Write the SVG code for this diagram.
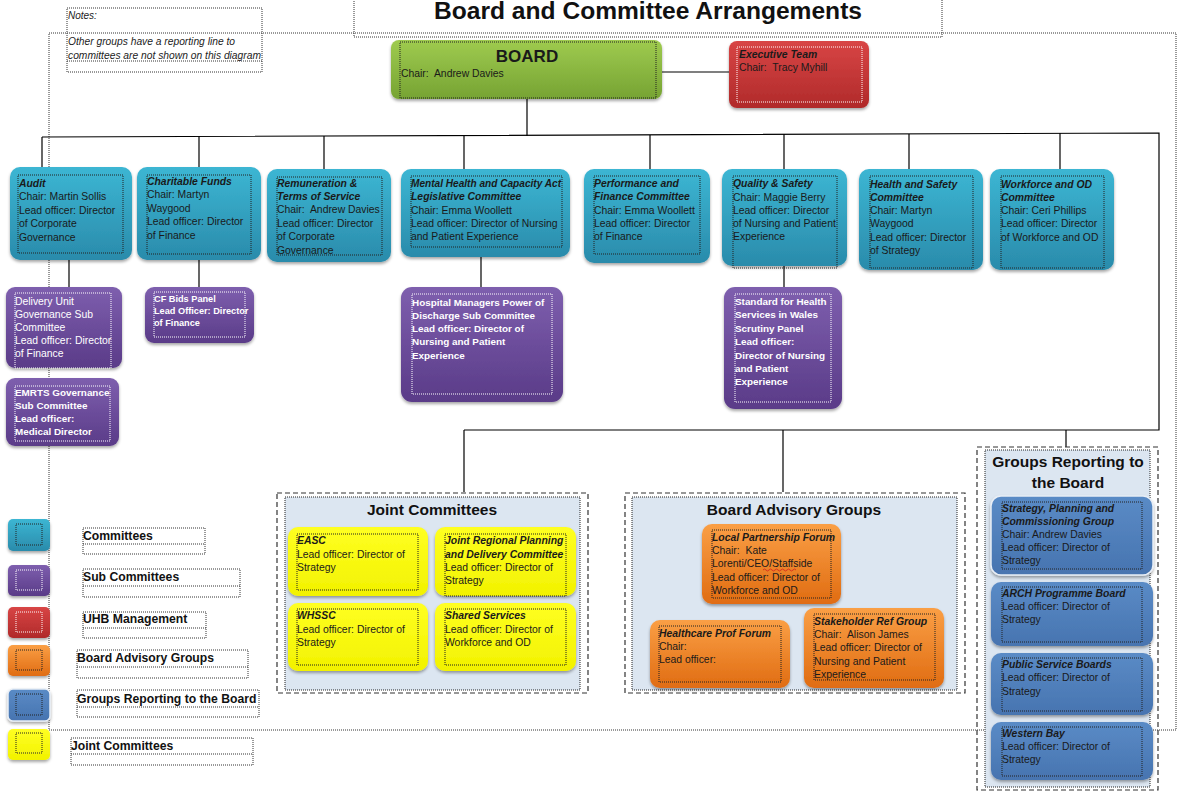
<svg xmlns="http://www.w3.org/2000/svg" width="1181" height="794" viewBox="0 0 1181 794">
<defs>
<linearGradient id="gTeal" x1="0" y1="0" x2="0" y2="1"><stop offset="0" stop-color="#3cb6d3"/><stop offset="1" stop-color="#2a8bab"/></linearGradient>
<linearGradient id="gPurple" x1="0" y1="0" x2="0" y2="1"><stop offset="0" stop-color="#7e5fae"/><stop offset="1" stop-color="#5a3b88"/></linearGradient>
<linearGradient id="gRed" x1="0" y1="0" x2="0" y2="1"><stop offset="0" stop-color="#d84545"/><stop offset="1" stop-color="#b02a2a"/></linearGradient>
<linearGradient id="gGreen" x1="0" y1="0" x2="0" y2="1"><stop offset="0" stop-color="#9fcb4f"/><stop offset="1" stop-color="#76a333"/></linearGradient>
<linearGradient id="gOrange" x1="0" y1="0" x2="0" y2="1"><stop offset="0" stop-color="#fa9f45"/><stop offset="1" stop-color="#e06c12"/></linearGradient>
<linearGradient id="gBlue" x1="0" y1="0" x2="0" y2="1"><stop offset="0" stop-color="#5a8bc6"/><stop offset="1" stop-color="#4774b0"/></linearGradient>
<linearGradient id="gYellow" x1="0" y1="0" x2="0" y2="1"><stop offset="0" stop-color="#ffff22"/><stop offset="1" stop-color="#f2f200"/></linearGradient>
<filter id="sh" x="-10%" y="-10%" width="120%" height="130%"><feDropShadow dx="0" dy="2" stdDeviation="1.5" flood-color="#000" flood-opacity="0.35"/></filter>
</defs>
<style>
text{font-family:"Liberation Sans",Arial,sans-serif;white-space:pre;}
.t{font-size:10.4px;fill:#1a1a1a;}
.w{font-size:10.4px;fill:#fff;}
.wb{font-size:9.9px;fill:#fff;font-weight:bold;}
.h{font-weight:bold;font-style:italic;}
.tb{fill:none;stroke:#222;stroke-width:1;stroke-dasharray:1 1;}
.fr{fill:none;stroke:#333;stroke-width:1;stroke-dasharray:1 1;}
.ln{stroke:#000;stroke-width:1.2;fill:none;}
.dash{fill:none;stroke:#333;stroke-width:1.2;stroke-dasharray:5 3;}
.panel{fill:#dce6f1;}
.ct{font-size:15.5px;font-weight:bold;fill:#111;text-anchor:middle;}
.lg{font-size:12.2px;font-weight:bold;fill:#111;}
.teal{fill:url(#gTeal);filter:url(#sh);}
.purple{fill:url(#gPurple);filter:url(#sh);}
.orange{fill:url(#gOrange);filter:url(#sh);}
.blue{fill:url(#gBlue);filter:url(#sh);}
.yellow{fill:url(#gYellow);filter:url(#sh);}
</style>
<rect width="1181" height="794" fill="#fff"/>

<!-- background frames -->
<g id="frames">
<rect x="49" y="33" width="1127" height="697" class="fr"/>
<rect x="67" y="8" width="195" height="64" fill="#fff" class="fr"/>
<line x1="67" y1="61" x2="262" y2="61" class="fr"/>
<rect x="354" y="-2" width="588" height="39" fill="#fff" class="fr"/>
</g>

<g id="title">
<text x="648" y="19" font-size="23" font-weight="bold" text-anchor="middle" fill="#111" textLength="428" lengthAdjust="spacingAndGlyphs">Board and Committee Arrangements</text>
</g>

<g id="notes">
<text x="68" y="19" font-size="10" font-style="italic" fill="#222">Notes:</text>
<text x="68" y="45" font-size="10" font-style="italic" fill="#222" textLength="167" lengthAdjust="spacingAndGlyphs">Other groups have a reporting line to</text>
<text x="68" y="59" font-size="10" font-style="italic" fill="#222" textLength="193" lengthAdjust="spacingAndGlyphs">committees are not shown on this diagram</text>
</g>

<g id="connectors">
<line x1="662" y1="72" x2="729" y2="72" class="ln"/>
<line x1="527" y1="99" x2="527" y2="136" class="ln"/>
<polyline points="42,137 1159,133 1159,430 464,430" class="ln"/>
<line x1="42" y1="137" x2="42" y2="167" class="ln"/>
<line x1="199" y1="136" x2="199" y2="167" class="ln"/>
<line x1="324" y1="136" x2="324" y2="169" class="ln"/>
<line x1="464" y1="135" x2="464" y2="169" class="ln"/>
<line x1="650" y1="135" x2="650" y2="169" class="ln"/>
<line x1="784" y1="134" x2="784" y2="169" class="ln"/>
<line x1="909" y1="134" x2="909" y2="169" class="ln"/>
<line x1="1060" y1="133" x2="1060" y2="169" class="ln"/>
<line x1="69" y1="260" x2="69" y2="287" class="ln"/>
<line x1="199" y1="260" x2="199" y2="287" class="ln"/>
<line x1="481" y1="257" x2="481" y2="287" class="ln"/>
<line x1="784" y1="266" x2="784" y2="287" class="ln"/>
<line x1="464" y1="430" x2="464" y2="492" class="ln"/>
<line x1="783" y1="430" x2="783" y2="492" class="ln"/>
<line x1="1066" y1="430" x2="1066" y2="447" class="ln"/>
</g>

<g id="board">
<rect x="391" y="40" width="271" height="59" rx="8" fill="url(#gGreen)" filter="url(#sh)"/>
<rect x="400" y="42" width="256" height="56" class="tb"/>
<text x="527" y="62" font-size="17" font-weight="bold" text-anchor="middle" fill="#1a1a1a">BOARD</text>
<text x="401" y="77" class="t">Chair:  Andrew Davies</text>
</g>

<g id="exec">
<rect x="729" y="41" width="140" height="67" rx="8" fill="url(#gRed)" filter="url(#sh)"/>
<rect x="737" y="47" width="125" height="55" fill="none" stroke="#fff" stroke-width="1" stroke-dasharray="1 1"/>
<text x="739" y="58" class="t h" fill="#2a0a0a">Executive Team</text>
<text x="739" y="71" class="t" fill="#2a0a0a">Chair:  Tracy Myhill</text>
</g>

<g id="audit">
<rect x="10" y="167" width="122" height="93" rx="10" class="teal"/>
<rect x="18" y="175" width="105" height="78" class="tb"/>
<text class="t"><tspan x="19" y="187" class="h">Audit</tspan><tspan x="19" y="200">Chair: Martin Sollis</tspan><tspan x="19" y="214">Lead officer: Director</tspan><tspan x="19" y="227">of Corporate</tspan><tspan x="19" y="241">Governance</tspan></text>
</g>

<g id="charitable">
<rect x="137" y="167" width="124" height="93" rx="10" class="teal"/>
<rect x="147" y="175" width="104" height="79" class="tb"/>
<text class="t"><tspan x="147" y="185" class="h">Charitable Funds</tspan><tspan x="147" y="198">Chair: Martyn</tspan><tspan x="147" y="212">Waygood</tspan><tspan x="147" y="225">Lead officer: Director</tspan><tspan x="147" y="239">of Finance</tspan></text>
</g>

<g id="remuneration">
<rect x="267" y="169" width="124" height="93" rx="10" class="teal"/>
<rect x="277" y="177" width="105" height="78" class="tb"/>
<text class="t"><tspan x="277" y="187" class="h">Remuneration &amp;</tspan><tspan x="277" y="200" class="h">Terms of Service</tspan><tspan x="277" y="213">Chair:  Andrew Davies</tspan><tspan x="277" y="227">Lead officer: Director</tspan><tspan x="277" y="240">of Corporate</tspan><tspan x="277" y="254">Governance</tspan></text>
</g>

<g id="mental-health">
<rect x="401" y="169" width="169" height="88" rx="10" class="teal"/>
<rect x="411" y="176" width="151" height="71" class="tb"/>
<text class="t"><tspan x="411" y="187" class="h" textLength="150" lengthAdjust="spacingAndGlyphs">Mental Health and Capacity Act</tspan><tspan x="411" y="200" class="h">Legislative Committee</tspan><tspan x="411" y="214">Chair: Emma Woollett</tspan><tspan x="411" y="227">Lead officer: Director of Nursing</tspan><tspan x="411" y="240">and Patient Experience</tspan></text>
</g>

<g id="performance">
<rect x="584" y="169" width="126" height="94" rx="10" class="teal"/>
<rect x="594" y="176" width="106" height="78" class="tb"/>
<text class="t"><tspan x="594" y="187" class="h">Performance and</tspan><tspan x="594" y="200" class="h">Finance Committee</tspan><tspan x="594" y="214">Chair: Emma Woollett</tspan><tspan x="594" y="227">Lead officer: Director</tspan><tspan x="594" y="240">of Finance</tspan></text>
</g>

<g id="quality">
<rect x="722" y="169" width="125" height="97" rx="10" class="teal"/>
<rect x="733" y="176" width="104" height="92" class="tb"/>
<text class="t"><tspan x="733" y="187" class="h">Quality &amp; Safety</tspan><tspan x="733" y="201">Chair: Maggie Berry</tspan><tspan x="733" y="214">Lead officer: Director</tspan><tspan x="733" y="227">of Nursing and Patient</tspan><tspan x="733" y="240">Experience</tspan></text>
</g>

<g id="health-safety">
<rect x="859" y="169" width="124" height="101" rx="10" class="teal"/>
<rect x="870" y="176" width="103" height="92" class="tb"/>
<text class="t"><tspan x="870" y="188" class="h">Health and Safety</tspan><tspan x="870" y="201" class="h">Committee</tspan><tspan x="870" y="214">Chair: Martyn</tspan><tspan x="870" y="227">Waygood</tspan><tspan x="870" y="241">Lead officer: Director</tspan><tspan x="870" y="254">of Strategy</tspan></text>
</g>

<g id="workforce">
<rect x="990" y="169" width="124" height="101" rx="10" class="teal"/>
<rect x="1001" y="176" width="103" height="92" class="tb"/>
<text class="t"><tspan x="1001" y="188" class="h">Workforce and OD</tspan><tspan x="1001" y="201" class="h">Committee</tspan><tspan x="1001" y="214">Chair: Ceri Phillips</tspan><tspan x="1001" y="227">Lead officer: Director</tspan><tspan x="1001" y="241">of Workforce and OD</tspan></text>
</g>

<g id="delivery-unit">
<rect x="6" y="287" width="116" height="81" rx="9" class="purple"/>
<rect x="15" y="293" width="96" height="75" class="tb" style="stroke:#fff"/>
<text class="w"><tspan x="15" y="305">Delivery Unit</tspan><tspan x="15" y="318">Governance Sub</tspan><tspan x="15" y="331">Committee</tspan><tspan x="15" y="344">Lead officer: Director</tspan><tspan x="15" y="357">of Finance</tspan></text>
</g>

<g id="emrts">
<rect x="6" y="378" width="113" height="68" rx="9" class="purple"/>
<rect x="15" y="386" width="95" height="55" class="tb" style="stroke:#fff"/>
<text class="wb"><tspan x="15" y="396">EMRTS Governance</tspan><tspan x="15" y="409">Sub Committee</tspan><tspan x="15" y="422">Lead officer:</tspan><tspan x="15" y="435">Medical Director</tspan></text>
</g>

<g id="cf-bids">
<rect x="145" y="287" width="109" height="56" rx="9" class="purple"/>
<rect x="154" y="292" width="91" height="45" class="tb" style="stroke:#fff"/>
<text class="wb" style="font-size:9.2px"><tspan x="154" y="302">CF Bids Panel</tspan><tspan x="154" y="314">Lead Officer: Director</tspan><tspan x="154" y="326">of Finance</tspan></text>
</g>

<g id="hospital-managers">
<rect x="401" y="287" width="162" height="115" rx="11" class="purple"/>
<rect x="412" y="294" width="140" height="100" class="tb" style="stroke:#fff"/>
<text class="wb"><tspan x="412" y="306">Hospital Managers Power of</tspan><tspan x="412" y="319">Discharge Sub Committee</tspan><tspan x="412" y="332">Lead officer: Director of</tspan><tspan x="412" y="345">Nursing and Patient</tspan><tspan x="412" y="359">Experience</tspan></text>
</g>

<g id="standard">
<rect x="724" y="287" width="118" height="122" rx="11" class="purple"/>
<rect x="735" y="294" width="96" height="108" class="tb" style="stroke:#fff"/>
<text class="wb"><tspan x="735" y="305">Standard for Health</tspan><tspan x="735" y="318">Services in Wales</tspan><tspan x="735" y="332">Scrutiny Panel</tspan><tspan x="735" y="345">Lead officer:</tspan><tspan x="735" y="359">Director of Nursing</tspan><tspan x="735" y="372">and Patient</tspan><tspan x="735" y="385">Experience</tspan></text>
</g>

<g id="joint-committees">
<rect x="277" y="493" width="311" height="200" class="dash"/>
<rect x="285" y="497" width="295" height="193" class="panel"/>
<rect x="285" y="497" width="295" height="193" class="tb"/>
<text x="432" y="515" class="ct">Joint Committees</text>
<g id="easc">
<rect x="288" y="527" width="140" height="69" rx="10" class="yellow"/>
<rect x="297" y="534" width="121" height="56" class="tb"/>
<text class="t"><tspan x="297" y="544" class="h">EASC</tspan><tspan x="297" y="558">Lead officer: Director of</tspan><tspan x="297" y="571">Strategy</tspan></text>
</g>
<g id="joint-regional">
<rect x="435" y="527" width="141" height="69" rx="10" class="yellow"/>
<rect x="445" y="534" width="121" height="62" class="tb"/>
<text class="t"><tspan x="445" y="544" class="h">Joint Regional Planning</tspan><tspan x="445" y="558" class="h">and Delivery Committee</tspan><tspan x="445" y="571">Lead officer: Director of</tspan><tspan x="445" y="584">Strategy</tspan></text>
</g>
<g id="whssc">
<rect x="288" y="603" width="140" height="68" rx="10" class="yellow"/>
<rect x="297" y="609" width="121" height="56" class="tb"/>
<text class="t"><tspan x="297" y="619" class="h">WHSSC</tspan><tspan x="297" y="633">Lead officer: Director of</tspan><tspan x="297" y="646">Strategy</tspan></text>
</g>
<g id="shared-services">
<rect x="435" y="603" width="141" height="68" rx="10" class="yellow"/>
<rect x="445" y="609" width="121" height="56" class="tb"/>
<text class="t"><tspan x="445" y="619" class="h">Shared Services</tspan><tspan x="445" y="633">Lead officer: Director of</tspan><tspan x="445" y="646">Workforce and OD</tspan></text>
</g>
</g>

<g id="advisory-groups">
<rect x="625" y="493" width="340" height="200" class="dash"/>
<rect x="632" y="497" width="325" height="193" class="panel"/>
<rect x="632" y="497" width="325" height="193" class="tb"/>
<text x="794" y="515" class="ct">Board Advisory Groups</text>
<g id="local-partnership">
<rect x="702" y="524" width="139" height="80" rx="10" class="orange"/>
<rect x="712" y="530" width="119" height="68" class="tb"/>
<text class="t"><tspan x="712" y="541" class="h">Local Partnership Forum</tspan><tspan x="712" y="554">Chair:  Kate</tspan><tspan x="712" y="567">Lorenti/CEO/Staffside</tspan><tspan x="712" y="581">Lead officer: Director of</tspan><tspan x="712" y="594">Workforce and OD</tspan></text>
<path d="M763 570 q1.5 -2 3 0 t3 0 t3 0 t3 0 t3 0 t3 0 t3 0 t3 0 t3 0 t3 0 t3 0" fill="none" stroke="#d02020" stroke-width="0.8"/>
</g>
<g id="healthcare-prof">
<rect x="650" y="620" width="140" height="68" rx="10" class="orange"/>
<rect x="659" y="626" width="122" height="56" class="tb"/>
<text class="t"><tspan x="659" y="637" class="h">Healthcare Prof Forum</tspan><tspan x="659" y="650">Chair:</tspan><tspan x="659" y="663">Lead officer:</tspan></text>
</g>
<g id="stakeholder">
<rect x="804" y="608" width="140" height="80" rx="10" class="orange"/>
<rect x="814" y="614" width="121" height="66" class="tb"/>
<text class="t"><tspan x="814" y="625" class="h">Stakeholder Ref Group</tspan><tspan x="814" y="638">Chair:  Alison James</tspan><tspan x="814" y="651">Lead officer: Director of</tspan><tspan x="814" y="665">Nursing and Patient</tspan><tspan x="814" y="678">Experience</tspan></text>
</g>
</g>

<g id="groups-reporting">
<rect x="977" y="447" width="181" height="343" class="dash"/>
<rect x="985" y="450" width="165" height="337" class="panel"/>
<rect x="985" y="450" width="165" height="337" class="tb"/>
<text x="1068" y="467" class="ct" font-size="16">Groups Reporting to</text>
<text x="1068" y="488" class="ct" font-size="16">the Board</text>
<g id="strategy-planning">
<rect x="991" y="496" width="162" height="79" rx="10" class="blue" stroke="#e8eef6" stroke-width="1.5"/>
<rect x="1002" y="502" width="140" height="67" class="tb"/>
<text class="t"><tspan x="1002" y="512" class="h">Strategy, Planning and</tspan><tspan x="1002" y="525" class="h">Commissioning Group</tspan><tspan x="1002" y="538">Chair: Andrew Davies</tspan><tspan x="1002" y="551">Lead officer: Director of</tspan><tspan x="1002" y="564">Strategy</tspan></text>
</g>
<g id="arch">
<rect x="991" y="582" width="162" height="64" rx="10" class="blue"/>
<rect x="1002" y="587" width="140" height="55" class="tb"/>
<text class="t"><tspan x="1002" y="597" class="h">ARCH Programme Board</tspan><tspan x="1002" y="610">Lead officer: Director of</tspan><tspan x="1002" y="623">Strategy</tspan></text>
</g>
<g id="public-service">
<rect x="991" y="653" width="162" height="62" rx="10" class="blue"/>
<rect x="1002" y="658" width="140" height="53" class="tb"/>
<text class="t"><tspan x="1002" y="668" class="h">Public Service Boards</tspan><tspan x="1002" y="681">Lead officer: Director of</tspan><tspan x="1002" y="695">Strategy</tspan></text>
</g>
<g id="western-bay">
<rect x="991" y="722" width="162" height="58" rx="10" class="blue"/>
<rect x="1002" y="727" width="140" height="49" class="tb"/>
<text class="t"><tspan x="1002" y="737" class="h">Western Bay</tspan><tspan x="1002" y="750">Lead officer: Director of</tspan><tspan x="1002" y="763">Strategy</tspan></text>
</g>
</g>

<g id="legend">
<rect x="8" y="519" width="42" height="32" rx="5" class="teal"/>
<rect x="16" y="524" width="26" height="21" class="tb"/>
<rect x="8" y="565" width="42" height="31" rx="5" class="purple"/>
<rect x="16" y="570" width="26" height="20" class="tb" style="stroke:#fff"/>
<rect x="8" y="607" width="42" height="31" rx="5" fill="url(#gRed)" filter="url(#sh)"/>
<rect x="16" y="612" width="26" height="20" class="tb" style="stroke:#fff"/>
<rect x="8" y="645" width="42" height="31" rx="5" class="orange"/>
<rect x="16" y="650" width="26" height="20" class="tb"/>
<rect x="8" y="689" width="42" height="32" rx="5" class="blue" stroke="#e8eef6" stroke-width="1.5"/>
<rect x="16" y="694" width="26" height="21" class="tb"/>
<rect x="8" y="729" width="42" height="31" rx="5" class="yellow"/>
<rect x="16" y="733" width="26" height="20" class="tb"/>
<rect x="83" y="528" width="122" height="26" class="fr"/>
<line x1="83" y1="544" x2="205" y2="544" class="fr"/>
<text x="83" y="540" class="lg">Committees</text>
<rect x="83" y="569" width="157" height="28" class="fr"/>
<line x1="83" y1="586" x2="240" y2="586" class="fr"/>
<text x="83" y="581" class="lg">Sub Committees</text>
<rect x="83" y="612" width="123" height="26" class="fr"/>
<line x1="83" y1="628" x2="206" y2="628" class="fr"/>
<text x="83" y="623" class="lg">UHB Management</text>
<rect x="77" y="650" width="171" height="28" class="fr"/>
<line x1="77" y1="667" x2="248" y2="667" class="fr"/>
<text x="77" y="662" class="lg">Board Advisory Groups</text>
<rect x="77" y="690" width="182" height="27" class="fr"/>
<line x1="77" y1="707" x2="259" y2="707" class="fr"/>
<text x="77" y="703" class="lg">Groups Reporting to the Board</text>
<rect x="71" y="738" width="182" height="27" class="fr"/>
<line x1="71" y1="754" x2="253" y2="754" class="fr"/>
<text x="71" y="750" class="lg">Joint Committees</text>
</g>
</svg>
